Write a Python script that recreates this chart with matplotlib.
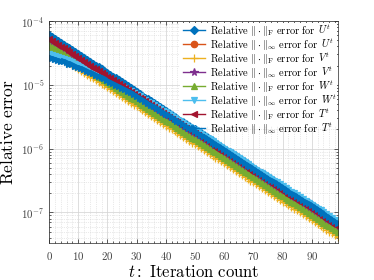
import numpy as np
import matplotlib
matplotlib.use("Agg")
import matplotlib.pyplot as plt
from matplotlib.patches import Rectangle
from matplotlib.ticker import MultipleLocator, LogLocator, FuncFormatter, NullFormatter

plt.rcParams['mathtext.fontset'] = 'cm'
plt.rcParams['font.family'] = ['DejaVu Sans']

# ---- data: iteration index and log10 of relative errors ----
iterations = list(range(100))

log10_U_fro = [-4.22, -4.25, -4.28, -4.31, -4.34, -4.37, -4.40, -4.43, -4.46, -4.49,
               -4.52, -4.55, -4.58, -4.61, -4.64, -4.67, -4.70, -4.72, -4.75, -4.78,
               -4.81, -4.84, -4.87, -4.90, -4.93, -4.96, -4.99, -5.02, -5.05, -5.08,
               -5.11, -5.14, -5.17, -5.20, -5.23, -5.26, -5.29, -5.32, -5.35, -5.38,
               -5.41, -5.44, -5.47, -5.50, -5.53, -5.56, -5.59, -5.62, -5.65, -5.68,
               -5.70, -5.73, -5.76, -5.79, -5.82, -5.85, -5.88, -5.91, -5.94, -5.97,
               -6.00, -6.03, -6.06, -6.09, -6.12, -6.15, -6.18, -6.21, -6.24, -6.27,
               -6.30, -6.33, -6.36, -6.39, -6.42, -6.45, -6.48, -6.51, -6.54, -6.57,
               -6.60, -6.63, -6.66, -6.69, -6.71, -6.74, -6.77, -6.80, -6.83, -6.86,
               -6.89, -6.92, -6.95, -6.98, -7.01, -7.04, -7.07, -7.10, -7.13, -7.16]

log10_U_inf = [-4.47, -4.49, -4.51, -4.54, -4.56, -4.58, -4.61, -4.63, -4.66, -4.68,
               -4.71, -4.73, -4.76, -4.78, -4.81, -4.84, -4.86, -4.88, -4.91, -4.93,
               -4.96, -4.99, -5.01, -5.04, -5.07, -5.10, -5.13, -5.15, -5.18, -5.21,
               -5.24, -5.27, -5.30, -5.32, -5.35, -5.38, -5.41, -5.44, -5.47, -5.50,
               -5.53, -5.56, -5.58, -5.61, -5.64, -5.67, -5.70, -5.73, -5.76, -5.79,
               -5.81, -5.84, -5.87, -5.90, -5.93, -5.96, -5.99, -6.02, -6.05, -6.08,
               -6.11, -6.14, -6.16, -6.19, -6.22, -6.25, -6.28, -6.31, -6.34, -6.37,
               -6.40, -6.43, -6.46, -6.49, -6.52, -6.55, -6.58, -6.61, -6.64, -6.67,
               -6.70, -6.73, -6.76, -6.79, -6.81, -6.84, -6.87, -6.90, -6.93, -6.96,
               -6.99, -7.02, -7.05, -7.08, -7.11, -7.14, -7.17, -7.20, -7.23, -7.26]

log10_V_fro = [-4.45, -4.48, -4.51, -4.54, -4.57, -4.60, -4.63, -4.66, -4.69, -4.72,
               -4.75, -4.78, -4.81, -4.84, -4.87, -4.90, -4.93, -4.95, -4.98, -5.01,
               -5.04, -5.07, -5.10, -5.13, -5.16, -5.19, -5.22, -5.25, -5.28, -5.31,
               -5.34, -5.37, -5.40, -5.43, -5.46, -5.49, -5.52, -5.55, -5.58, -5.61,
               -5.64, -5.67, -5.70, -5.73, -5.76, -5.79, -5.82, -5.85, -5.88, -5.91,
               -5.93, -5.96, -5.99, -6.02, -6.05, -6.08, -6.11, -6.14, -6.17, -6.20,
               -6.23, -6.26, -6.29, -6.32, -6.35, -6.38, -6.41, -6.44, -6.47, -6.50,
               -6.53, -6.56, -6.59, -6.62, -6.65, -6.68, -6.71, -6.74, -6.77, -6.80,
               -6.83, -6.86, -6.89, -6.92, -6.94, -6.97, -7.00, -7.03, -7.06, -7.09,
               -7.12, -7.15, -7.18, -7.21, -7.24, -7.27, -7.30, -7.33, -7.36, -7.39]

log10_V_inf = [-4.32, -4.35, -4.38, -4.41, -4.44, -4.47, -4.50, -4.53, -4.56, -4.59,
               -4.62, -4.65, -4.68, -4.71, -4.74, -4.77, -4.80, -4.82, -4.85, -4.88,
               -4.91, -4.94, -4.97, -5.00, -5.03, -5.06, -5.09, -5.12, -5.15, -5.18,
               -5.21, -5.24, -5.27, -5.30, -5.33, -5.36, -5.39, -5.42, -5.45, -5.48,
               -5.51, -5.54, -5.57, -5.60, -5.63, -5.66, -5.69, -5.72, -5.75, -5.78,
               -5.80, -5.83, -5.86, -5.89, -5.92, -5.95, -5.98, -6.01, -6.04, -6.07,
               -6.10, -6.13, -6.16, -6.19, -6.22, -6.25, -6.28, -6.31, -6.34, -6.37,
               -6.40, -6.43, -6.46, -6.49, -6.52, -6.55, -6.58, -6.61, -6.64, -6.67,
               -6.70, -6.73, -6.76, -6.79, -6.81, -6.84, -6.87, -6.90, -6.93, -6.96,
               -6.99, -7.02, -7.05, -7.08, -7.11, -7.14, -7.17, -7.20, -7.23, -7.26]

log10_W_fro = [-4.37, -4.40, -4.43, -4.46, -4.49, -4.52, -4.55, -4.58, -4.61, -4.64,
               -4.67, -4.70, -4.73, -4.76, -4.79, -4.82, -4.85, -4.87, -4.90, -4.93,
               -4.96, -4.99, -5.02, -5.05, -5.08, -5.11, -5.14, -5.17, -5.20, -5.23,
               -5.26, -5.29, -5.32, -5.35, -5.38, -5.41, -5.44, -5.47, -5.50, -5.53,
               -5.56, -5.59, -5.62, -5.65, -5.68, -5.71, -5.74, -5.77, -5.80, -5.83,
               -5.85, -5.88, -5.91, -5.94, -5.97, -6.00, -6.03, -6.06, -6.09, -6.12,
               -6.15, -6.18, -6.21, -6.24, -6.27, -6.30, -6.33, -6.36, -6.39, -6.42,
               -6.45, -6.48, -6.51, -6.54, -6.57, -6.60, -6.63, -6.66, -6.69, -6.72,
               -6.75, -6.78, -6.81, -6.84, -6.86, -6.89, -6.92, -6.95, -6.98, -7.01,
               -7.04, -7.07, -7.10, -7.13, -7.16, -7.19, -7.22, -7.25, -7.28, -7.31]

log10_W_inf = [-4.52, -4.53, -4.55, -4.56, -4.58, -4.59, -4.61, -4.63, -4.65, -4.67,
               -4.69, -4.71, -4.73, -4.75, -4.77, -4.79, -4.82, -4.83, -4.85, -4.88,
               -4.90, -4.93, -4.95, -4.98, -5.00, -5.03, -5.05, -5.08, -5.10, -5.13,
               -5.16, -5.18, -5.21, -5.24, -5.27, -5.29, -5.32, -5.35, -5.38, -5.41,
               -5.43, -5.46, -5.49, -5.52, -5.55, -5.57, -5.60, -5.63, -5.66, -5.69,
               -5.71, -5.74, -5.77, -5.80, -5.83, -5.85, -5.88, -5.91, -5.94, -5.97,
               -6.00, -6.03, -6.06, -6.09, -6.12, -6.15, -6.18, -6.21, -6.24, -6.27,
               -6.30, -6.33, -6.36, -6.39, -6.41, -6.44, -6.47, -6.50, -6.53, -6.56,
               -6.59, -6.62, -6.65, -6.68, -6.70, -6.73, -6.76, -6.79, -6.82, -6.85,
               -6.88, -6.91, -6.94, -6.97, -7.00, -7.03, -7.06, -7.09, -7.12, -7.15]

log10_T_fro = [-4.28, -4.31, -4.34, -4.37, -4.40, -4.43, -4.46, -4.49, -4.52, -4.55,
               -4.58, -4.61, -4.64, -4.67, -4.70, -4.73, -4.76, -4.78, -4.81, -4.84,
               -4.87, -4.90, -4.93, -4.96, -4.99, -5.02, -5.05, -5.08, -5.11, -5.14,
               -5.17, -5.20, -5.23, -5.26, -5.29, -5.32, -5.35, -5.38, -5.41, -5.44,
               -5.47, -5.50, -5.53, -5.56, -5.59, -5.62, -5.65, -5.68, -5.71, -5.74,
               -5.76, -5.79, -5.82, -5.85, -5.88, -5.91, -5.94, -5.97, -6.00, -6.03,
               -6.06, -6.09, -6.12, -6.15, -6.18, -6.21, -6.24, -6.27, -6.30, -6.33,
               -6.36, -6.39, -6.42, -6.45, -6.48, -6.51, -6.54, -6.57, -6.60, -6.63,
               -6.66, -6.69, -6.72, -6.75, -6.77, -6.80, -6.83, -6.86, -6.89, -6.92,
               -6.95, -6.98, -7.01, -7.04, -7.07, -7.10, -7.13, -7.16, -7.19, -7.22]

log10_T_inf = [-4.57, -4.58, -4.59, -4.61, -4.62, -4.63, -4.65, -4.67, -4.68, -4.70,
               -4.72, -4.74, -4.76, -4.78, -4.80, -4.82, -4.84, -4.86, -4.88, -4.90,
               -4.93, -4.95, -4.97, -5.00, -5.02, -5.05, -5.07, -5.10, -5.12, -5.15,
               -5.18, -5.20, -5.23, -5.26, -5.28, -5.31, -5.34, -5.36, -5.39, -5.42,
               -5.45, -5.48, -5.50, -5.53, -5.56, -5.59, -5.62, -5.65, -5.67, -5.70,
               -5.72, -5.75, -5.78, -5.81, -5.84, -5.87, -5.90, -5.92, -5.95, -5.98,
               -6.01, -6.04, -6.07, -6.10, -6.13, -6.16, -6.19, -6.22, -6.25, -6.28,
               -6.31, -6.34, -6.37, -6.40, -6.43, -6.46, -6.49, -6.51, -6.54, -6.57,
               -6.60, -6.63, -6.66, -6.69, -6.71, -6.74, -6.77, -6.80, -6.83, -6.86,
               -6.89, -6.92, -6.95, -6.98, -7.01, -7.04, -7.07, -7.10, -7.13, -7.16]

series_data = [log10_U_fro, log10_U_inf, log10_V_fro, log10_V_inf,
               log10_W_fro, log10_W_inf, log10_T_fro, log10_T_inf]
# legend pieces: norm part and matrix part
label_norms = [
    r'$\mathrm{Relative}\ \|\cdot\|_{\mathrm{F}}\ \mathrm{error\ for}$',
    r'$\mathrm{Relative}\ \|\cdot\|_{\infty}\ \mathrm{error\ for}$',
] * 4
label_matrices = [r'$U^t$', r'$U^t$', r'$V^t$', r'$V^t$',
                  r'$W^t$', r'$W^t$', r'$T^t$', r'$T^t$']
colors = ['#0072BD', '#D95319', '#EDB120', '#7E2F8E',
          '#77AC30', '#4DBEEE', '#A2142F', '#0072BD']
markers = ['D', 'o', '+', '*', '^', 'v', '<', '>']
msizes = [4.2, 4.6, 5.5, 5.5, 5.0, 5.0, 5.0, 5.0]

fig = plt.figure(figsize=(3.74, 2.80), dpi=100)
ax = fig.add_axes([0.131, 0.132, 0.773, 0.793])

lines = []
for vals, c, m, ms in zip(series_data, colors, markers, msizes):
    ln, = ax.plot(iterations, 10 ** np.array(vals), color=c, marker=m, markersize=ms,
                  markerfacecolor=c, markeredgecolor=c, markeredgewidth=0.9,
                  linewidth=1.0)
    lines.append(ln)

ax.set_yscale('log')
ax.set_xlim(0, 99)
ax.set_ylim(10 ** -7.48, 1e-4)

ax.xaxis.set_major_locator(MultipleLocator(10))
ax.xaxis.set_minor_locator(MultipleLocator(2))
ax.yaxis.set_major_locator(LogLocator(base=10, numticks=10))
ax.yaxis.set_minor_locator(LogLocator(base=10, subs=np.arange(2, 10), numticks=20))
ax.yaxis.set_minor_formatter(NullFormatter())


def yfmt(v, pos):
    e = int(round(np.log10(v)))
    return r'$\mathsf{10^{%d}}$' % e


ax.yaxis.set_major_formatter(FuncFormatter(yfmt))
ax.xaxis.set_major_formatter(FuncFormatter(lambda v, p: r'$\mathsf{%d}$' % int(round(v))))

tick_color = '#404040'
ax.tick_params(axis='both', which='both', direction='in', top=True, right=True,
               colors='#262626', labelcolor=tick_color, labelsize=7.8, width=0.5)
ax.tick_params(axis='both', which='major', length=3)
ax.tick_params(axis='both', which='minor', length=1.5)
ax.tick_params(axis='x', which='major', pad=5)

ax.grid(True, which='major', color='#d4d4d4', linewidth=0.55, linestyle='-')
ax.grid(True, which='minor', color='#d4d4d4', linewidth=0.5, linestyle=':')
ax.set_axisbelow(True)
for sp in ax.spines.values():
    sp.set_color('#262626')
    sp.set_linewidth(0.5)

ax.set_ylabel(r'$\mathrm{Relative\ error}$', fontsize=12.5, labelpad=3)
ax.set_xlabel(r'$t\mathrm{:\ Iteration\ count}$', fontsize=12, labelpad=1)

# white legend background
ax.add_patch(Rectangle((0.453, 0.525), 0.542, 0.468, transform=ax.transAxes,
                       facecolor='white', edgecolor='none', zorder=1.5))

fs = 7.5
fs_px = fs * fig.dpi / 72.0
target_pitch = 12.5
anchor = (0.462, 0.988)


def make_legend(spacing):
    return ax.legend(lines, label_norms, loc='upper left', bbox_to_anchor=anchor,
                     fontsize=fs, frameon=False, handlelength=2.2,
                     handletextpad=0.4, labelspacing=spacing,
                     borderpad=0.0, borderaxespad=0.0)


leg = make_legend(0.0)
fig.canvas.draw()
renderer = fig.canvas.get_renderer()
row_h = max(t.get_window_extent(renderer).height for t in leg.get_texts())
leg.remove()
leg = make_legend(max(0.0, (target_pitch - row_h) / fs_px))
fig.canvas.draw()
renderer = fig.canvas.get_renderer()
inv = fig.transFigure.inverted()
for t, s in zip(leg.get_texts(), label_matrices):
    bb = t.get_window_extent(renderer)
    bx, by = t.get_transform().transform((0, 0))
    fx, fy = inv.transform((bb.x1 + 0.28 * fs_px, by))
    fig.text(fx, fy, s, fontsize=fs, va='baseline', ha='left')

fig.savefig('out.png', dpi=100)
